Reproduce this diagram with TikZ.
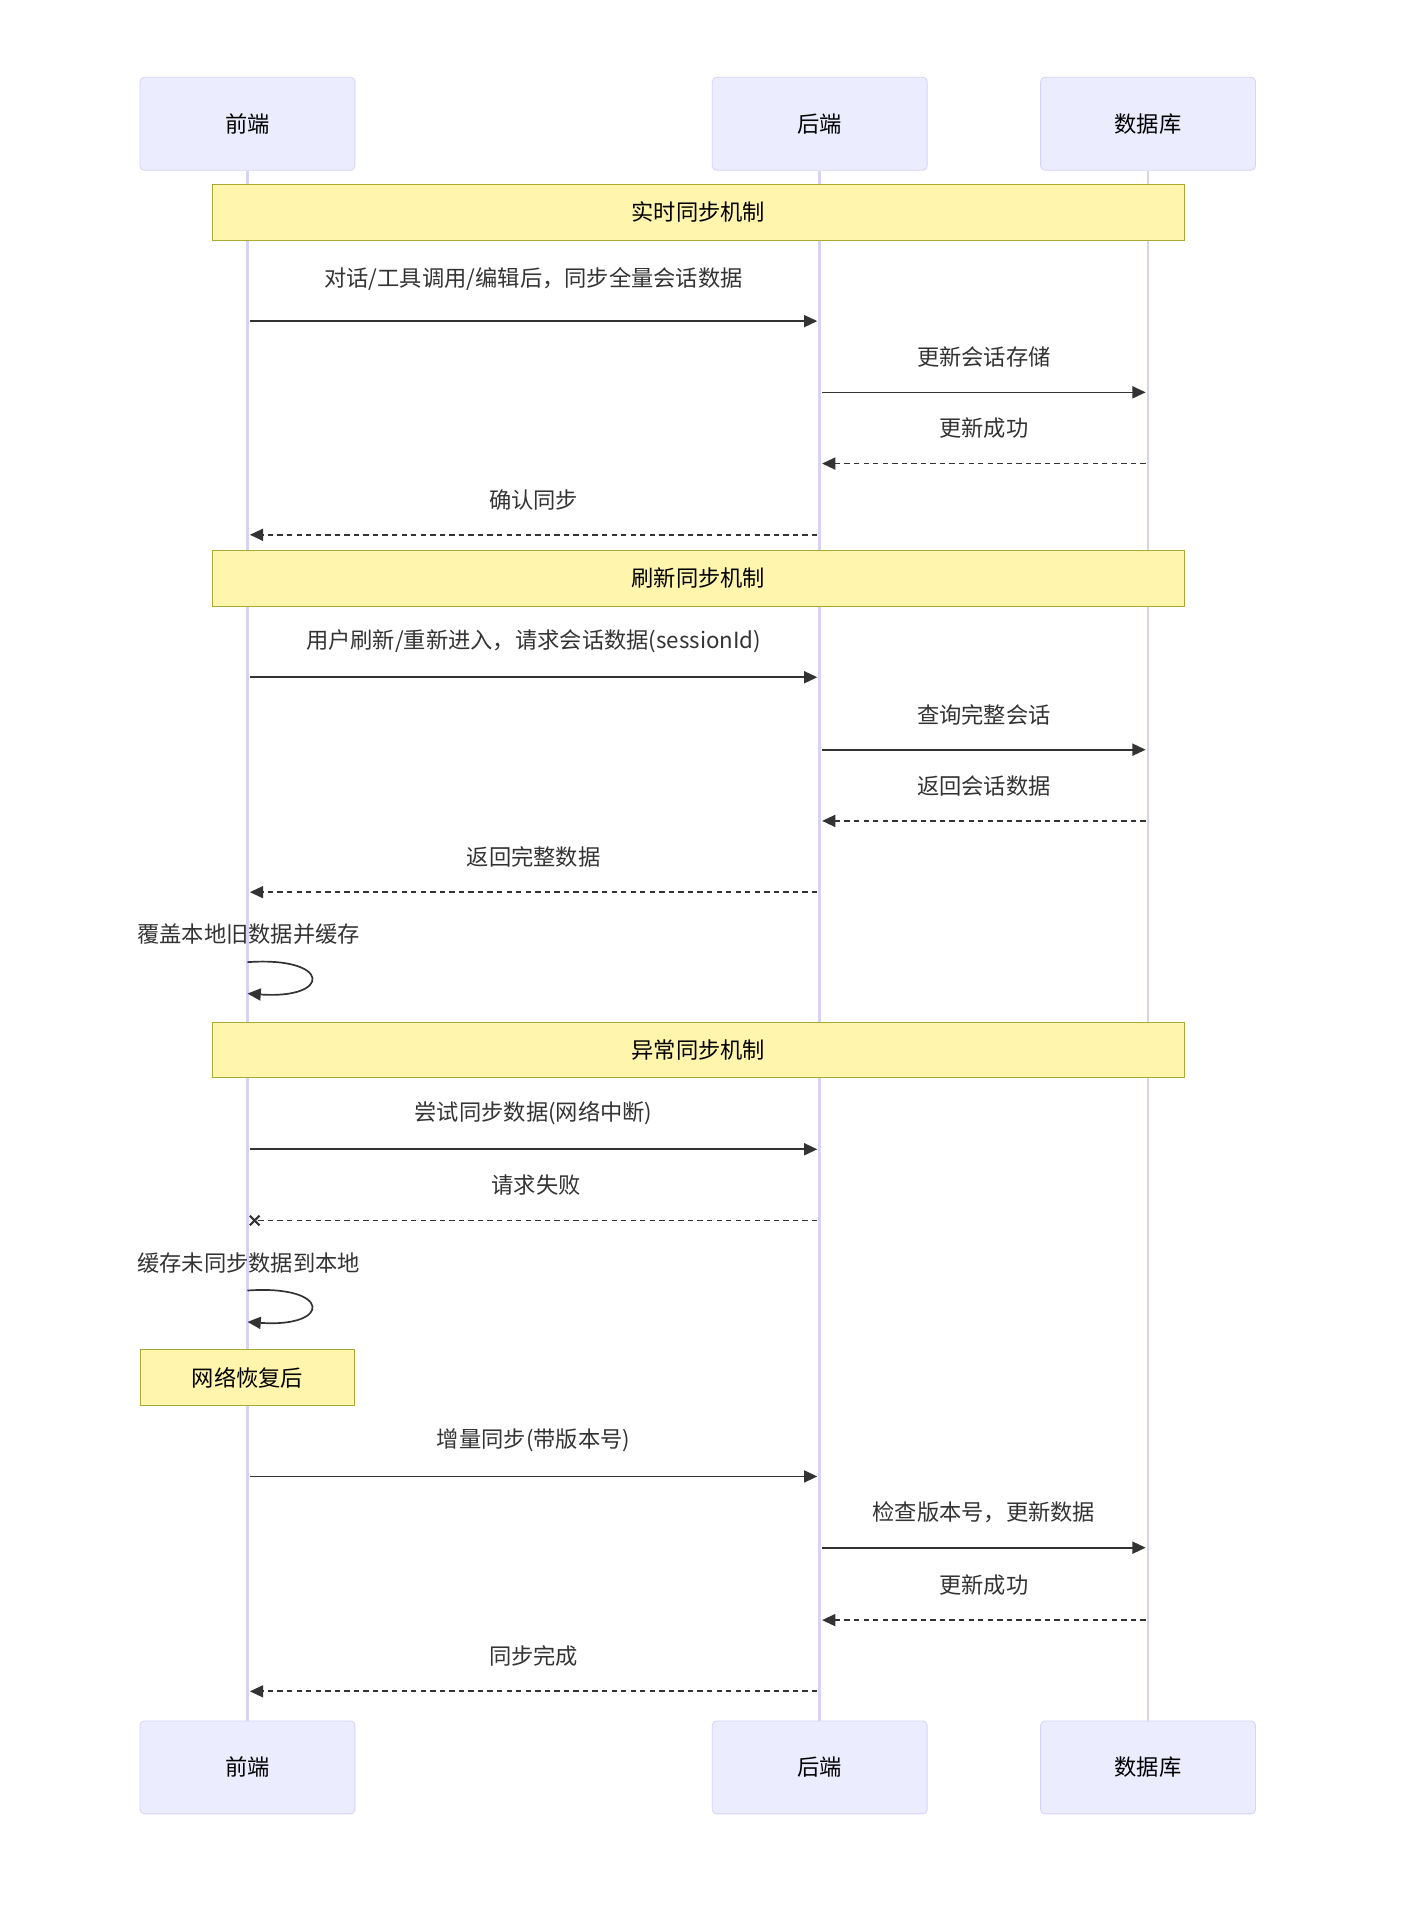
\documentclass[tikz,border=0pt]{standalone}
\usepackage{fontspec}
\setmainfont{Noto Sans CJK SC}
\usetikzlibrary{arrows.meta,calc}
\definecolor{actfill}{HTML}{ECECFF}
\definecolor{actline}{HTML}{D6D3F5}
\definecolor{notefill}{HTML}{FFF5AD}
\definecolor{noteline}{HTML}{AAAA33}
\definecolor{ink}{HTML}{333333}
\tikzset{
  actor/.style={draw=actline, fill=actfill, rounded corners=2pt, minimum width=3.56cm, minimum height=1.54cm, font=\fontsize{10.5}{12}\selectfont, text=black},
  note/.style={draw=noteline, fill=notefill, minimum height=0.92cm, font=\fontsize{10.5}{12}\selectfont, text=black},
  life/.style={draw=actline, line width=1.2pt},
  msg/.style={draw=ink, line width=0.8pt, -{Triangle[length=0.22cm, width=0.2cm]}},
  reply/.style={msg, dash pattern=on 2.5pt off 2pt},
  lbl/.style={font=\fontsize{10.5}{12}\selectfont, text=ink}
}
\begin{document}
\begin{tikzpicture}[x=0.02cm, y=-0.02cm]
        \useasboundingbox (0,0) rectangle (1160,1578);

        % actors
        \node[actor] (fe) at (205,102.5) {前端};
        \node[actor] (be) at (679,102.5) {后端};
        \node[actor] (db) at (951,102.5) {数据库};
        \node[actor] (fe2) at (205,1464) {前端};
        \node[actor] (be2) at (679,1464) {后端};
        \node[actor] (db2) at (951,1464) {数据库};

        \draw[life] (fe) -- (fe2);
        \draw[life] (be) -- (be2);
        \draw[life] (db) -- (db2);

        % notes
        \node[note, minimum width=16.1cm] (n1) at (578.5,176) {实时同步机制};
        \node[note, minimum width=16.1cm] (n2) at (578.5,479) {刷新同步机制};
        \node[note, minimum width=16.1cm] (n3) at (578.5,869.5) {异常同步机制};
        \node[note, minimum width=3.56cm] (n4) at (205,1141) {网络恢复后};

        % #######################################

        \coordinate (a1) at (207,266);  \coordinate (b1) at (677,266);
        \coordinate (a2) at (681,325);  \coordinate (b2) at (949,325);
        \coordinate (a3) at (949,384);  \coordinate (b3) at (681,384);
        \coordinate (a4) at (677,443);  \coordinate (b4) at (207,443);
        \coordinate (a5) at (207,561);  \coordinate (b5) at (677,561);
        \coordinate (a6) at (681,621);  \coordinate (b6) at (949,621);
        \coordinate (a7) at (949,680);  \coordinate (b7) at (681,680);
        \coordinate (a8) at (677,739);  \coordinate (b8) at (207,739);
        \coordinate (a9) at (207,952);  \coordinate (b9) at (677,952);
        \coordinate (a10) at (677,1011); \coordinate (b10) at (211,1011);
        \coordinate (a11) at (207,1223); \coordinate (b11) at (677,1223);
        \coordinate (a12) at (681,1282); \coordinate (b12) at (949,1282);
        \coordinate (a13) at (949,1342); \coordinate (b13) at (681,1342);
        \coordinate (a14) at (677,1401); \coordinate (b14) at (207,1401);

        \draw[msg] (a1) -- node[lbl, above=0.38cm] {对话/工具调用/编辑后，同步全量会话数据} (b1);
        \draw[msg] (a2) -- node[lbl, above=0.28cm] {更新会话存储} (b2);
        \draw[reply] (a3) -- node[lbl, above=0.28cm] {更新成功} (b3);
        \draw[reply] (a4) -- node[lbl, above=0.28cm] {确认同步} (b4);

        \draw[msg] (a5) -- node[lbl, above=0.28cm] {用户刷新/重新进入，请求会话数据(sessionId)} (b5);
        \draw[msg] (a6) -- node[lbl, above=0.28cm] {查询完整会话} (b6);
        \draw[reply] (a7) -- node[lbl, above=0.28cm] {返回会话数据} (b7);
        \draw[reply] (a8) -- node[lbl, above=0.28cm] {返回完整数据} (b8);

        \coordinate (s1) at (205,797); \coordinate (t1) at (205,823);
        \node[lbl] (l1) at (206,774) {覆盖本地旧数据并缓存};
        \draw[msg] (s1) .. controls (275,792) and (275,828) .. (t1);

        \draw[msg] (a9) -- node[lbl, above=0.28cm] {尝试同步数据(网络中断)} (b9);
        \draw[reply, -] (a10) -- node[lbl, above=0.28cm] {请求失败} (b10);
        \draw[ink, line width=1pt] ($(b10)+(-4,-4)$) -- ($(b10)+(4,4)$)
            ($(b10)+(-4,4)$) -- ($(b10)+(4,-4)$);

        \coordinate (s2) at (205,1069); \coordinate (t2) at (205,1095);
        \node[lbl] (l2) at (206,1046) {缓存未同步数据到本地};
        \draw[msg] (s2) .. controls (275,1064) and (275,1100) .. (t2);

        \draw[msg] (a11) -- node[lbl, above=0.28cm] {增量同步(带版本号)} (b11);
        \draw[msg] (a12) -- node[lbl, above=0.28cm] {检查版本号，更新数据} (b12);
        \draw[reply] (a13) -- node[lbl, above=0.28cm] {更新成功} (b13);
        \draw[reply] (a14) -- node[lbl, above=0.28cm] {同步完成} (b14);

    \end{tikzpicture}
\end{document}
